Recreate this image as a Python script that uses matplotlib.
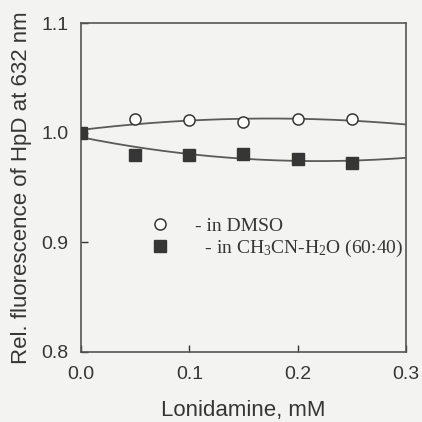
import matplotlib.pyplot as plt
import numpy as np

# values
conc = [0.0, 0.05, 0.10, 0.15, 0.20, 0.25]
dmso = [1.000, 1.0125, 1.0115, 1.0095, 1.0125, 1.0122]
acn_water = [1.000, 0.980, 0.980, 0.9806, 0.976, 0.9724]

x_ticks = [0.0, 0.1, 0.2, 0.3]
y_ticks = [0.8, 0.9, 1.0, 1.1]

plt.rcParams['font.family'] = ['Liberation Sans', 'DejaVu Sans']
plt.rcParams['mathtext.fontset'] = 'custom'
plt.rcParams['mathtext.rm'] = 'Liberation Serif'
plt.rcParams['mathtext.it'] = 'Liberation Serif'

ink = '#363636'
bg = '#f3f3f1'

fig = plt.figure(figsize=(4.22, 4.22), dpi=100, facecolor=bg)
ax = fig.add_axes([0.192, 0.166, 0.770, 0.779])
ax.set_facecolor(bg)

# smooth fitted curves through each series
xs = np.linspace(0, 0.3, 200)
for ys in (dmso, acn_water):
    coef = np.polyfit(conc, ys, 2)
    ax.plot(xs, np.polyval(coef, xs), color='#5a5a5a', lw=1.3, zorder=2)

ax.plot(conc, dmso, 'o', ms=8, mfc='white', mec=ink, mew=1.1, ls='none',
        label='- in DMSO', zorder=3)
ax.plot(conc, acn_water, 's', ms=8, mfc=ink, mec=ink, ls='none',
        label='  - in CH$_3$CN-H$_2$O (60:40)', zorder=4)

ax.set_xlim(0, 0.3)
ax.set_ylim(0.8, 1.1)
ax.set_xticks(x_ticks)
ax.set_yticks(y_ticks)
ax.set_xticklabels([f'{v:.1f}' for v in x_ticks])
ax.set_yticklabels([f'{v:.1f}' for v in y_ticks])
ax.tick_params(direction='in', length=5, width=1, colors=ink, labelsize=14)
ax.tick_params(axis='x', pad=10)
ax.tick_params(axis='y', pad=9)
for s in ax.spines.values():
    s.set_color('#555555')
    s.set_linewidth(1.2)

ax.set_xlabel('Lonidamine, mM', fontsize=16, color=ink, labelpad=12)
ax.set_ylabel('Rel. fluorescence of HpD at 632 nm', fontsize=16, color=ink, labelpad=7)

leg = ax.legend(loc='center left', bbox_to_anchor=(0.16, 0.347), frameon=False,
                prop={'family': 'Liberation Serif', 'size': 14},
                handletextpad=1.3, labelspacing=0.15, handlelength=1.0,
                markerscale=1.0)
for t in leg.get_texts():
    t.set_color(ink)

fig.savefig('out.png', dpi=100, facecolor=bg)
